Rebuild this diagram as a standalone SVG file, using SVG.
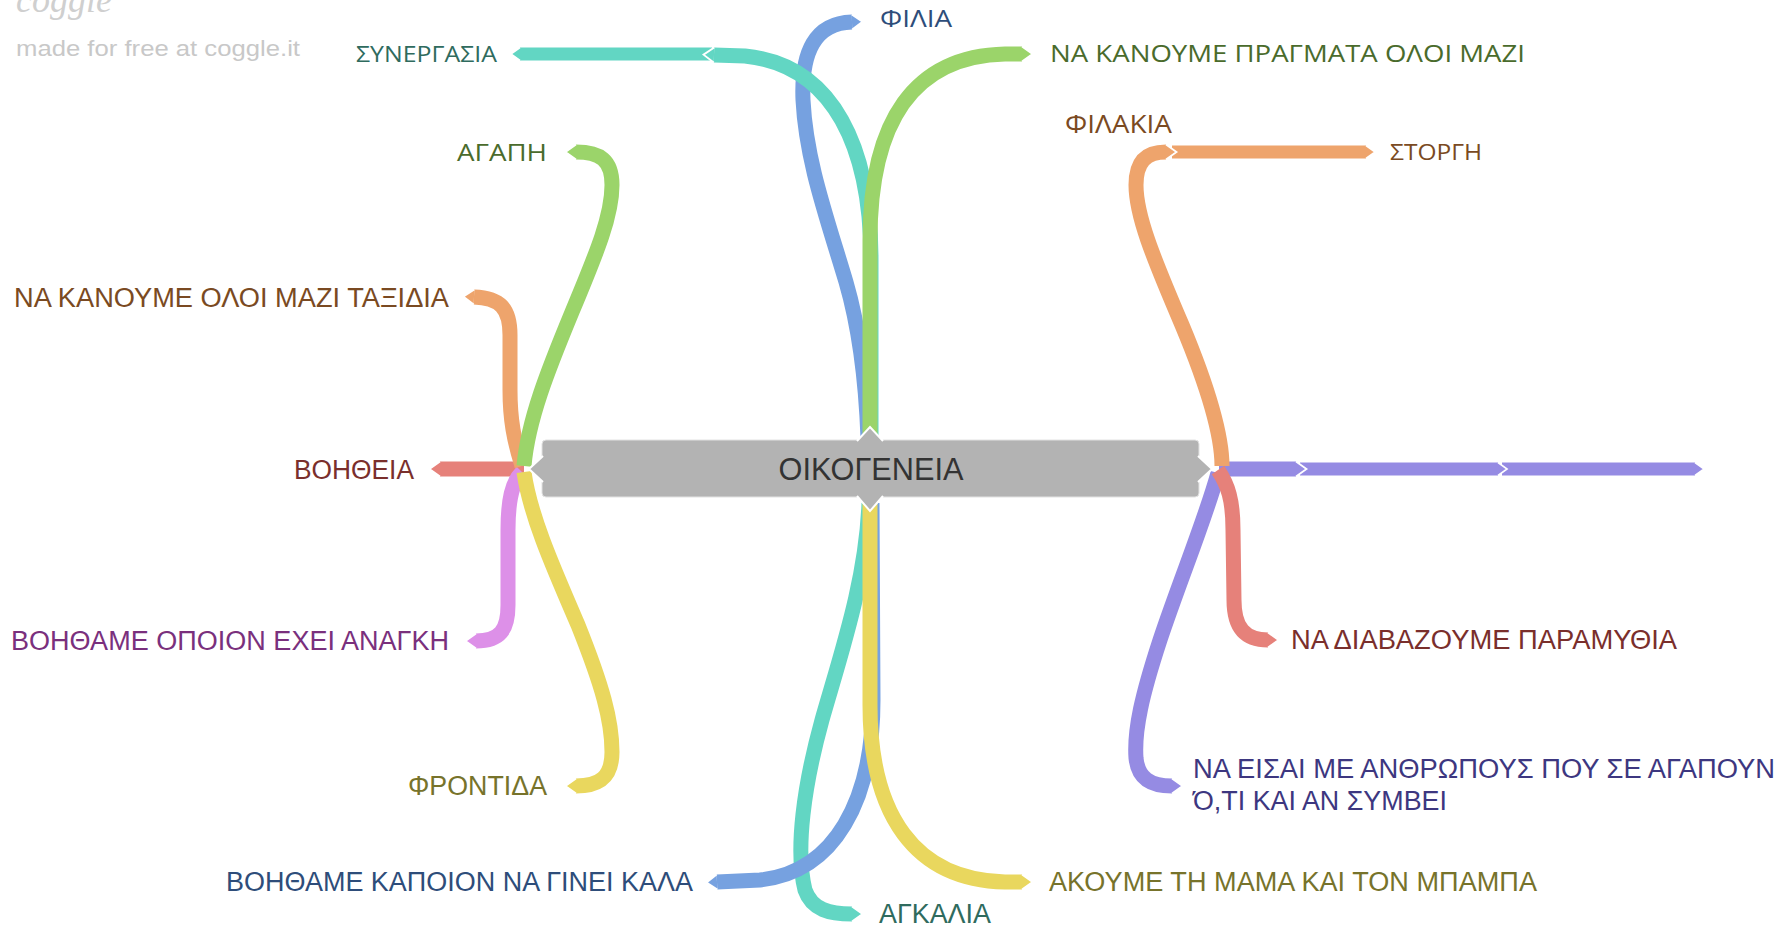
<svg xmlns="http://www.w3.org/2000/svg" width="1787" height="929" viewBox="0 0 1787 929">
<style>
.br{fill:none;stroke-linecap:butt;stroke-linejoin:round}
.l1{stroke-width:15}
.l2{stroke-width:13}
.teal{stroke:#62d6c3}.blue{stroke:#76a1e0}.green{stroke:#9bd46a}.orange{stroke:#eea46c}
.red{stroke:#e6817a}.pink{stroke:#dd90e8}.yellow{stroke:#e9d75e}.purple{stroke:#958be3}
.t{font-family:"Liberation Sans",Arial,sans-serif;font-size:27px}
.o{font-family:"Open Sans","Noto Sans",sans-serif;font-size:24px}
.tteal{fill:#2f6b5e}.tblue{fill:#2e4d7a}.tgreen{fill:#4a6b2c}.torange{fill:#7a4a22}
.tred{fill:#7a2f2c}.tpink{fill:#7a307d}.tyellow{fill:#77732b}.tpurple{fill:#3d3780}
.nub{fill:#b3b3b3}
.nubline{fill:none;stroke:#fff;stroke-width:2;stroke-linejoin:miter}
</style>
<defs>
<marker id="tip-teal" viewBox="0 -0.6 0.9 1.2" refX="0" refY="0" markerWidth="0.9" markerHeight="1.2" markerUnits="strokeWidth" orient="auto" overflow="visible"><path d="M0,-0.5 L0.7,0 L0,0.5 Z" fill="#62d6c3"/><path d="M0,-0.5 L0.7,0 L0,0.5" fill="none" stroke="#fff" stroke-width="0.12"/></marker>
<marker id="tip-blue" viewBox="0 -0.6 0.9 1.2" refX="0" refY="0" markerWidth="0.9" markerHeight="1.2" markerUnits="strokeWidth" orient="auto" overflow="visible"><path d="M0,-0.5 L0.7,0 L0,0.5 Z" fill="#76a1e0"/><path d="M0,-0.5 L0.7,0 L0,0.5" fill="none" stroke="#fff" stroke-width="0.12"/></marker>
<marker id="tip-green" viewBox="0 -0.6 0.9 1.2" refX="0" refY="0" markerWidth="0.9" markerHeight="1.2" markerUnits="strokeWidth" orient="auto" overflow="visible"><path d="M0,-0.5 L0.7,0 L0,0.5 Z" fill="#9bd46a"/><path d="M0,-0.5 L0.7,0 L0,0.5" fill="none" stroke="#fff" stroke-width="0.12"/></marker>
<marker id="tip-orange" viewBox="0 -0.6 0.9 1.2" refX="0" refY="0" markerWidth="0.9" markerHeight="1.2" markerUnits="strokeWidth" orient="auto" overflow="visible"><path d="M0,-0.5 L0.7,0 L0,0.5 Z" fill="#eea46c"/><path d="M0,-0.5 L0.7,0 L0,0.5" fill="none" stroke="#fff" stroke-width="0.12"/></marker>
<marker id="tip-red" viewBox="0 -0.6 0.9 1.2" refX="0" refY="0" markerWidth="0.9" markerHeight="1.2" markerUnits="strokeWidth" orient="auto" overflow="visible"><path d="M0,-0.5 L0.7,0 L0,0.5 Z" fill="#e6817a"/><path d="M0,-0.5 L0.7,0 L0,0.5" fill="none" stroke="#fff" stroke-width="0.12"/></marker>
<marker id="tip-pink" viewBox="0 -0.6 0.9 1.2" refX="0" refY="0" markerWidth="0.9" markerHeight="1.2" markerUnits="strokeWidth" orient="auto" overflow="visible"><path d="M0,-0.5 L0.7,0 L0,0.5 Z" fill="#dd90e8"/><path d="M0,-0.5 L0.7,0 L0,0.5" fill="none" stroke="#fff" stroke-width="0.12"/></marker>
<marker id="tip-yellow" viewBox="0 -0.6 0.9 1.2" refX="0" refY="0" markerWidth="0.9" markerHeight="1.2" markerUnits="strokeWidth" orient="auto" overflow="visible"><path d="M0,-0.5 L0.7,0 L0,0.5 Z" fill="#e9d75e"/><path d="M0,-0.5 L0.7,0 L0,0.5" fill="none" stroke="#fff" stroke-width="0.12"/></marker>
<marker id="tip-purple" viewBox="0 -0.6 0.9 1.2" refX="0" refY="0" markerWidth="0.9" markerHeight="1.2" markerUnits="strokeWidth" orient="auto" overflow="visible"><path d="M0,-0.5 L0.7,0 L0,0.5 Z" fill="#958be3"/><path d="M0,-0.5 L0.7,0 L0,0.5" fill="none" stroke="#fff" stroke-width="0.12"/></marker>
</defs>
<rect width="1787" height="929" fill="#fff"/>
<g id="watermark">
<text x="16" y="12" font-family="'Liberation Serif',serif" font-style="italic" font-size="36" fill="#cfcfcf">coggle</text>
<text x="16" y="56" font-family="'Liberation Sans',Arial,sans-serif" font-size="22" fill="#c8c8c8" textLength="284" lengthAdjust="spacingAndGlyphs">made for free at coggle.it</text>
</g>
<g id="connectors">
<path class="br l2 teal" marker-end="url(#tip-teal)" d="M712 54 L520 54"/>
<path class="br l2 orange" marker-end="url(#tip-orange)" d="M1172 152 L1366 152"/>
<path class="br l2 purple" marker-end="url(#tip-purple)" d="M1502 469 L1695 469"/>
<path class="br l2 purple" marker-end="url(#tip-purple)" d="M1300 469 L1498 469"/>
<path class="br l1 purple" marker-end="url(#tip-purple)" d="M1219 469 L1296 469"/>
<path class="br l1 blue" marker-end="url(#tip-blue)" d="M868 438 C866 385,860 330,846 282 C826 215,806 160,803 100 C801 52,815 23,852 22"/>
<path class="br l1 teal" marker-end="url(#tip-teal)" d="M871 438 L871 260 C871 150,835 65,745 56 L714 55"/>
<path class="br l1 green" marker-end="url(#tip-green)" d="M870 438 L870 240 C870 120,915 56,1005 54 L1022 54"/>
<path class="br l1 teal" marker-end="url(#tip-teal)" d="M869 503 C866 580,842 650,822 720 C804 785,795 850,805 890 C812 910,830 914,852 914"/>
<path class="br l1 blue" marker-end="url(#tip-blue)" d="M872 503 L873 700 C873 800,835 872,760 880 L717 882"/>
<path class="br l1 yellow" marker-end="url(#tip-yellow)" d="M870 503 L870 705 C870 815,915 880,1005 882 L1022 882"/>
<path class="br l1 red" marker-end="url(#tip-red)" d="M524 469 L440 469"/>
<path class="br l1 pink" marker-end="url(#tip-pink)" d="M522 472 C512 482,508 500,508 530 L508 605 C508 630,500 641,476 641"/>
<path class="br l1 yellow" marker-end="url(#tip-yellow)" d="M524 472 C530 515,552 565,578 625 C602 685,612 720,612 752 C612 777,600 786,576 786"/>
<path class="br l1 orange" marker-end="url(#tip-orange)" d="M522 466 C514 440,510 420,510 390 L510 335 C510 308,500 298,474 297"/>
<path class="br l1 green" marker-end="url(#tip-green)" d="M524 466 C528 420,548 370,572 312 C598 250,612 215,612 185 C612 160,600 152,576 152"/>
<path class="br l1 orange" marker-end="url(#tip-orange)" d="M1222 466 C1222 430,1205 380,1182 325 C1152 255,1136 215,1136 185 C1136 162,1146 152,1166 152"/>
<path class="br l1 purple" marker-end="url(#tip-purple)" d="M1218 473 C1205 520,1180 580,1160 640 C1142 695,1134 730,1136 758 C1138 778,1150 786,1172 786"/>
<path class="br l1 red" marker-end="url(#tip-red)" d="M1218 470 C1228 485,1233 500,1233 530 L1234 600 C1234 628,1245 640,1268 640"/>
</g>
<g id="node-root">
<rect x="542" y="440" width="657" height="57" rx="4" fill="#b3b3b3" stroke="#e2e2e2" stroke-width="1"/>
<polygon class="nub" points="857,441 870,427 883,441"/><polyline class="nubline" points="857,441 870,427 883,441"/>
<polygon class="nub" points="857,496 870,511 883,496"/><polyline class="nubline" points="857,496 870,511 883,496"/>
<polygon class="nub" points="543,456 529,469 543,482"/><polyline class="nubline" points="543,456 529,469 543,482"/>
<polygon class="nub" points="1198,456 1212,469 1198,482"/><polyline class="nubline" points="1198,456 1212,469 1198,482"/>
<text x="871" y="480" text-anchor="middle" font-family="'Liberation Sans',Arial,sans-serif" font-size="32" fill="#333" textLength="185" lengthAdjust="spacingAndGlyphs">ΟΙΚΟΓΕΝΕΙΑ</text>
</g>
<g id="node-filia"><text class="o tblue" x="880" y="27" textLength="72" lengthAdjust="spacingAndGlyphs">ΦΙΛΙΑ</text></g>
<g id="node-synergasia"><text class="o tteal" x="497" y="62" text-anchor="end" textLength="141" lengthAdjust="spacingAndGlyphs" style="font-size:21px">ΣΥΝΕΡΓΑΣΙΑ</text></g>
<g id="node-pragmata"><text class="o tgreen" x="1050" y="62" textLength="475" lengthAdjust="spacingAndGlyphs">ΝΑ ΚΑΝΟΥΜΕ ΠΡΑΓΜΑΤΑ ΟΛΟΙ ΜΑΖΙ</text></g>
<g id="node-filakia"><text class="o torange" x="1065" y="133" textLength="107" lengthAdjust="spacingAndGlyphs" style="font-size:25px">ΦΙΛΑΚΙΑ</text></g>
<g id="node-storgi"><text class="o torange" x="1390" y="160" textLength="92" lengthAdjust="spacingAndGlyphs" style="font-size:21px">ΣΤΟΡΓΗ</text></g>
<g id="node-agapi"><text class="o tgreen" x="547" y="161" text-anchor="end" textLength="90" lengthAdjust="spacingAndGlyphs">ΑΓΑΠΗ</text></g>
<g id="node-taxidia"><text class="t torange" x="449" y="307" text-anchor="end" textLength="435" lengthAdjust="spacingAndGlyphs">ΝΑ ΚΑΝΟΥΜΕ ΟΛΟΙ ΜΑΖΙ ΤΑΞΙΔΙΑ</text></g>
<g id="node-voitheia"><text class="t tred" x="414" y="479" text-anchor="end" textLength="120" lengthAdjust="spacingAndGlyphs">ΒΟΗΘΕΙΑ</text></g>
<g id="node-anagki"><text class="t tpink" x="449" y="650" text-anchor="end" textLength="438" lengthAdjust="spacingAndGlyphs">ΒΟΗΘΑΜΕ ΟΠΟΙΟΝ ΕΧΕΙ ΑΝΑΓΚΗ</text></g>
<g id="node-frontida"><text class="t tyellow" x="547" y="795" text-anchor="end" textLength="139" lengthAdjust="spacingAndGlyphs">ΦΡΟΝΤΙΔΑ</text></g>
<g id="node-kala"><text class="t tblue" x="693" y="891" text-anchor="end" textLength="467" lengthAdjust="spacingAndGlyphs">ΒΟΗΘΑΜΕ ΚΑΠΟΙΟΝ ΝΑ ΓΙΝΕΙ ΚΑΛΑ</text></g>
<g id="node-agkalia"><text class="t tteal" x="879" y="923" textLength="112" lengthAdjust="spacingAndGlyphs">ΑΓΚΑΛΙΑ</text></g>
<g id="node-akoume"><text class="t tyellow" x="1049" y="891" textLength="488" lengthAdjust="spacingAndGlyphs">ΑΚΟΥΜΕ ΤΗ ΜΑΜΑ ΚΑΙ ΤΟΝ ΜΠΑΜΠΑ</text></g>
<g id="node-paramythia"><text class="t tred" x="1291" y="649" textLength="386" lengthAdjust="spacingAndGlyphs">ΝΑ ΔΙΑΒΑΖΟΥΜΕ ΠΑΡΑΜΥΘΙΑ</text></g>
<g id="node-anthropous"><text class="t tpurple" x="1193" y="778"><tspan textLength="582" lengthAdjust="spacingAndGlyphs">ΝΑ ΕΙΣΑΙ ΜΕ ΑΝΘΡΩΠΟΥΣ ΠΟΥ ΣΕ ΑΓΑΠΟΥΝ</tspan><tspan x="1193" y="810" textLength="254" lengthAdjust="spacingAndGlyphs">Ό,ΤΙ ΚΑΙ ΑΝ ΣΥΜΒΕΙ</tspan></text></g>
</svg>
